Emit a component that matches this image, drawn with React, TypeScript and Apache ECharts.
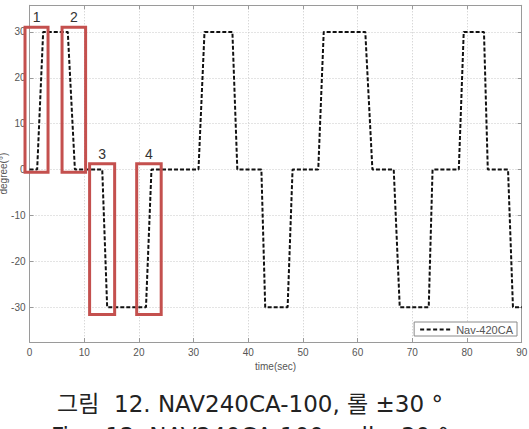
import React, { useEffect, useRef } from "react";
import * as echarts from "echarts";

// Roll angle trace, time (s) vs. degree
const timeSec = [
  0, 1.4, 2.5, 7.0, 8.3, 13.3, 14.2, 21.3, 22.3, 30.9, 32.0, 37.1, 38.0, 42.4, 43.1, 47.2,
  48.1, 52.8, 53.8, 61.4, 62.7, 66.6, 67.7, 73.0, 73.7, 78.5, 79.4, 83.1, 83.8, 87.5, 88.4, 90,
];
const rollDeg = [
  0, 0, 30, 30, 0, 0, -30, -30, 0, 0, 30, 30, 0, 0, -30, -30,
  0, 0, 30, 30, 0, 0, -30, -30, 0, 0, 30, 30, 0, 0, -30, -30,
];

const yTicks = [-30, -20, -10, 0, 10, 20, 30];

// Highlighted transition windows (data units)
const boxLabels = ["1", "2", "3", "4"];
const boxTimeStart = [-0.82, 5.95, 10.99, 19.6];
const boxTimeEnd = [3.39, 10.26, 15.57, 24.08];
const boxDegTop = [31.0, 31.0, 1.26, 1.26];
const boxDegBottom = [-0.59, -0.59, -31.6, -31.6];

const captionKo = "그림  12. NAV240CA-100, 롤 ±30 °";
const captionEn = "Fig.  12. NAV240CA-100, roll ±30 °";

const AXIS_FONT = "'Liberation Sans', Arial, sans-serif";
const CAPTION_FONT = "23px 'DejaVu Sans', 'Noto Sans CJK KR', sans-serif";
const AXIS_COLOR = "#9a9a9a";
const LABEL_COLOR = "#555";
const GRID_COLOR = "#c8c8c8";
const BOX_COLOR = "#c4504e";

// Dashed legend sample: five short dashes
const DASH_ICON =
  "path://M0,0h4v2h-4z M6.5,0h4v2h-4z M13,0h4v2h-4z M19.5,0h4v2h-4z M26,0h4v2h-4z";

export default function App() {
  const ref = useRef<HTMLDivElement>(null);

  useEffect(() => {
    document.body.style.margin = "0";
    if (!ref.current) return;
    const chart = echarts.init(ref.current, undefined, { renderer: "svg" });

    const data = timeSec.map((t, i) => [t, rollDeg[i]]);

    chart.setOption({
      animation: false,
      backgroundColor: "#fff",
      grid: {
        left: 29.5,
        top: 5.3,
        right: 7.3,
        bottom: 87,
        containLabel: false,
        outerBoundsMode: "none",
      },
      legend: {
        data: [{ name: "Nav-420CA", icon: DASH_ICON }],
        right: 12,
        top: 322,
        orient: "horizontal",
        itemWidth: 32,
        itemHeight: 2,
        itemGap: 4,
        padding: [2, 4, 1, 6],
        borderColor: "#8a8a8a",
        borderWidth: 1,
        borderRadius: 0,
        backgroundColor: "#fff",
        itemStyle: { color: "#111" },
        textStyle: { fontFamily: AXIS_FONT, fontSize: 11, color: LABEL_COLOR },
      },
      xAxis: [
        {
          type: "value",
          min: 0,
          max: 90,
          interval: 10,
          name: "time(sec)",
          nameLocation: "middle",
          nameGap: 19,
          nameMoveOverlap: false,
          nameTextStyle: { fontFamily: AXIS_FONT, fontSize: 10, color: LABEL_COLOR },
          axisLine: { onZero: false, lineStyle: { color: AXIS_COLOR, width: 1 } },
          axisTick: { inside: true, length: 4, lineStyle: { color: AXIS_COLOR } },
          axisLabel: { fontFamily: AXIS_FONT, fontSize: 10, color: LABEL_COLOR, margin: 5 },
          splitLine: { show: true, lineStyle: { color: GRID_COLOR, type: [1, 2], width: 1 } },
        },
        {
          type: "value",
          position: "top",
          min: 0,
          max: 90,
          interval: 10,
          axisLine: { show: true, onZero: false, lineStyle: { color: AXIS_COLOR, width: 1 } },
          axisTick: { show: true, inside: true, length: 4, lineStyle: { color: AXIS_COLOR } },
          axisLabel: { show: false },
          splitLine: { show: false },
        },
      ],
      yAxis: [
        {
          type: "value",
          min: -37.6,
          max: 35.8,
          name: "degree(°)",
          nameLocation: "middle",
          nameGap: 21,
          nameMoveOverlap: false,
          nameTextStyle: { fontFamily: AXIS_FONT, fontSize: 10, color: LABEL_COLOR },
          axisLine: { show: true, onZero: false, lineStyle: { color: AXIS_COLOR, width: 1 } },
          axisTick: { show: true, inside: true, length: 4, customValues: yTicks, lineStyle: { color: AXIS_COLOR } },
          axisLabel: { fontFamily: AXIS_FONT, fontSize: 10, color: LABEL_COLOR, margin: 4, customValues: yTicks },
          splitLine: { show: true, lineStyle: { color: GRID_COLOR, type: [1, 2], width: 1 } },
        },
        {
          type: "value",
          position: "right",
          min: -37.6,
          max: 35.8,
          axisLine: { show: true, onZero: false, lineStyle: { color: AXIS_COLOR, width: 1 } },
          axisTick: { show: true, inside: true, length: 4, customValues: yTicks, lineStyle: { color: AXIS_COLOR } },
          axisLabel: { show: false, customValues: yTicks },
          splitLine: { show: false },
        },
      ],
      series: [
        {
          name: "Nav-420CA",
          type: "line",
          data,
          showSymbol: false,
          symbol: "none",
          lineStyle: { color: "#111", width: 2, type: [4, 2] },
          itemStyle: { color: "#111" },
        },
      ],
    });

    // Annotation boxes placed in data space, plus captions below the plot
    const graphics: any[] = [];
    boxLabels.forEach((label, i) => {
      const p1 = chart.convertToPixel({ gridIndex: 0 }, [boxTimeStart[i], boxDegTop[i]]) as number[];
      const p2 = chart.convertToPixel({ gridIndex: 0 }, [boxTimeEnd[i], boxDegBottom[i]]) as number[];
      graphics.push({
        type: "rect",
        shape: { x: p1[0], y: p1[1], width: p2[0] - p1[0], height: p2[1] - p1[1] },
        style: { fill: "none", stroke: BOX_COLOR, lineWidth: 3 },
        z: 100,
      });
      graphics.push({
        type: "text",
        x: (p1[0] + p2[0]) / 2,
        y: p1[1] - 3,
        style: {
          text: label,
          fill: "#333",
          font: `14px ${AXIS_FONT}`,
          align: "center",
          verticalAlign: "bottom",
        },
        z: 100,
      });
    });
    graphics.push({
      type: "text",
      x: 250,
      y: 404,
      style: {
        text: captionKo,
        fill: "#222",
        font: CAPTION_FONT,
        align: "center",
        verticalAlign: "middle",
      },
    });
    graphics.push({
      type: "text",
      x: 250,
      y: 436,
      style: {
        text: captionEn,
        fill: "#222",
        font: CAPTION_FONT,
        align: "center",
        verticalAlign: "middle",
      },
    });
    chart.setOption({ graphic: graphics });

    return () => chart.dispose();
  }, []);

  return <div ref={ref} style={{ width: 529, height: 429 }} />;
}
